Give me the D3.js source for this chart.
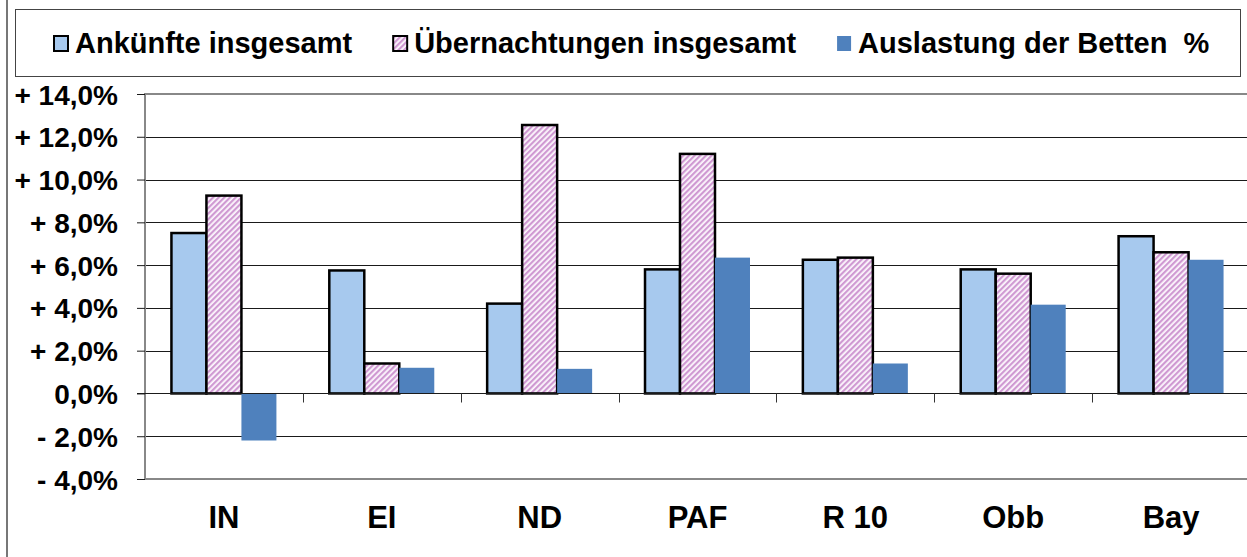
<!DOCTYPE html>
<meta charset="utf-8">
<style>
body {
	margin: 0;
	padding: 0;
	background: #fff;
}
text {
	font-family: "Liberation Sans", Arial, sans-serif;
	font-weight: bold;
	fill: #000;
}
.grid line {
	stroke: #1a1a1a;
	stroke-width: 1;
}
.frame {
	fill: none;
	stroke: #888;
	stroke-width: 2;
}
</style>
<body>
<div id="chart"></div>
<script src="https://cdn.jsdelivr.net/npm/d3@7"></script>
<script>
// data
var categories = ["IN", "EI", "ND", "PAF", "R 10", "Obb", "Bay"];
var seriesNames = ["Ankünfte insgesamt", "Übernachtungen insgesamt", "Auslastung der Betten  %"];
var ankuenfte = [7.5, 5.75, 4.2, 5.8, 6.25, 5.8, 7.35];
var uebernachtungen = [9.25, 1.4, 12.55, 11.2, 6.35, 5.6, 6.6];
var auslastung = [-2.2, 1.2, 1.15, 6.35, 1.4, 4.15, 6.25];
var yTicks = [-4, -2, 0, 2, 4, 6, 8, 10, 12, 14];

var width = 1247, height = 557;
var margin = {left: 145, top: 94, right: -3, bottom: 78};

var svg = d3.select("#chart").append("svg")
	.attr("width", width)
	.attr("height", height);

// hatch pattern for the Übernachtungen bars
var defs = svg.append("defs");
var pat = defs.append("pattern")
	.attr("id", "hatch")
	.attr("patternUnits", "userSpaceOnUse")
	.attr("width", 4)
	.attr("height", 4)
	.attr("patternTransform", "rotate(45)");
pat.append("rect").attr("width", 4).attr("height", 4).attr("fill", "#fdf8fd");
pat.append("rect").attr("width", 2.2).attr("height", 4).attr("fill", "#cf99d2");

var series = [
	{name: seriesNames[0], values: ankuenfte, fill: "#a7c9ee", stroke: "#000"},
	{name: seriesNames[1], values: uebernachtungen, fill: "url(#hatch)", stroke: "#000"},
	{name: seriesNames[2], values: auslastung, fill: "#4f81bd", stroke: "none"}
];

var x = d3.scaleBand()
	.domain(categories)
	.range([margin.left, width - margin.right])
	.paddingInner(0.335)
	.paddingOuter(0.1675);

var xs = d3.scaleBand()
	.domain(d3.range(series.length))
	.range([0, x.bandwidth()]);

var y = d3.scaleLinear()
	.domain([-4, 14])
	.range([height - margin.bottom, margin.top]);

// outer chart border (only left edge visible)
svg.append("line")
	.attr("x1", 7).attr("x2", 7)
	.attr("y1", 0).attr("y2", height)
	.attr("stroke", "#777").attr("stroke-width", 2);

// gridlines
svg.append("g")
	.attr("class", "grid")
	.selectAll("line")
	.data(yTicks.slice(1, -1))
	.enter().append("line")
	.attr("x1", margin.left).attr("x2", width)
	.attr("y1", function(d) { return Math.round(y(d)) + 0.5; })
	.attr("y2", function(d) { return Math.round(y(d)) + 0.5; });

// plot frame
svg.append("path")
	.attr("class", "frame")
	.attr("d", "M" + width + "," + y(14) + "H" + margin.left + "V" + y(-4) + "H" + width);

function fmt(v) {
	var s = Math.abs(v).toFixed(1).replace(".", ",") + "%";
	if (v > 0) return "+ " + s;
	if (v < 0) return "- " + s;
	return s;
}

// y axis
var yAxis = svg.append("g")
	.attr("transform", "translate(" + margin.left + ",0)")
	.call(d3.axisLeft(y).tickValues(yTicks).tickSize(8).tickPadding(19).tickFormat(fmt));
yAxis.select(".domain").remove();
yAxis.selectAll(".tick line").attr("stroke", "#1a1a1a");
yAxis.selectAll("text")
	.style("font-size", "28px")
	.style("font-family", "'Liberation Sans', Arial, sans-serif")
	.style("font-weight", "bold")
	.attr("dy", "0.36em");

// bars
var groups = svg.append("g").selectAll("g")
	.data(categories)
	.enter().append("g")
	.attr("transform", function(d) { return "translate(" + x(d) + ",0)"; });

groups.selectAll("rect")
	.data(function(d, i) {
		return series.map(function(s, j) { return {j: j, v: s.values[i], s: s}; });
	})
	.enter().append("rect")
	.attr("x", function(d) { return xs(d.j); })
	.attr("width", xs.bandwidth())
	.attr("y", function(d) { return y(Math.max(0, d.v)); })
	.attr("height", function(d) { return Math.abs(y(d.v) - y(0)); })
	.attr("fill", function(d) { return d.s.fill; })
	.attr("stroke", function(d) { return d.s.stroke; })
	.attr("stroke-width", 2.5);

// zero line with category separators
var zero = Math.round(y(0)) + 0.5;
svg.append("line")
	.attr("x1", margin.left - 8).attr("x2", width)
	.attr("y1", zero).attr("y2", zero)
	.attr("stroke", "#1a1a1a");
svg.append("g").selectAll("line")
	.data(categories.slice(1))
	.enter().append("line")
	.attr("x1", function(d) { return Math.round(x(d) - x.step() * x.paddingInner() / 2) + 0.5; })
	.attr("x2", function(d) { return Math.round(x(d) - x.step() * x.paddingInner() / 2) + 0.5; })
	.attr("y1", zero).attr("y2", zero + 9)
	.attr("stroke", "#333");

// category labels
var xAxis = svg.append("g")
	.attr("transform", "translate(0," + y(-4) + ")")
	.call(d3.axisBottom(x).tickSize(0).tickPadding(27));
xAxis.select(".domain").remove();
xAxis.selectAll("text")
	.style("font-size", "31px")
	.style("font-family", "'Liberation Sans', Arial, sans-serif")
	.style("font-weight", "bold");

// legend
var lg = svg.append("g");
lg.append("rect")
	.attr("x", 15.5).attr("y", 9.5)
	.attr("width", 1225).attr("height", 67)
	.attr("fill", "#fff").attr("stroke", "#444").attr("stroke-width", 1);

var lx = 54;
series.forEach(function(s) {
	lg.append("rect")
		.attr("x", lx).attr("y", 36)
		.attr("width", 14).attr("height", 15)
		.attr("fill", s.fill)
		.attr("stroke", s.stroke)
		.attr("stroke-width", 2);
	var t = lg.append("text")
		.attr("x", lx + 21).attr("y", 53)
		.style("font-size", "29px")
		.style("white-space", "pre")
		.text(s.name);
	lx += 21 + t.node().getComputedTextLength() + 41;
});
</script>
</body>
